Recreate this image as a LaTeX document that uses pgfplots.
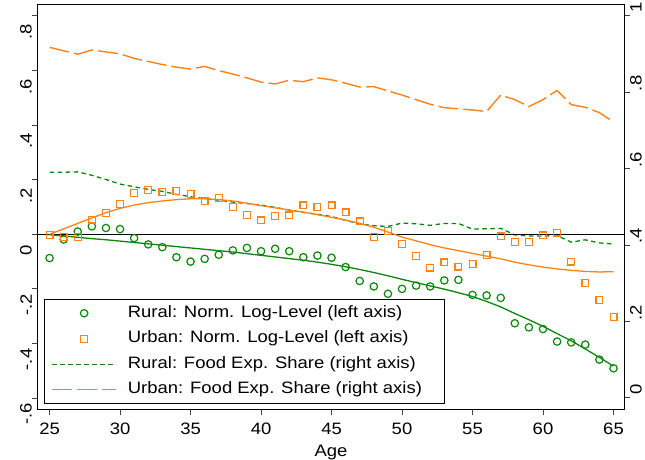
\documentclass[border=0pt]{standalone}
\usepackage{fontspec}
\setmainfont{Liberation Sans}[FakeStretch=1.12]
\usepackage{pgfplots}
\usepackage{pgfplotstable}
\pgfplotsset{compat=1.18}

\definecolor{rgreen}{RGB}{10,135,10}
\definecolor{uorange}{RGB}{255,130,20}

% age, rural/urban normalised log-level (points), fitted curves, food expenditure shares
\pgfplotstableread{
age rl ul rf uf rs us
25 -0.087 -0.002 -0.002 0.000 0.591 0.918
26 -0.019 -0.010 -0.006 0.020 0.591 0.909
27 0.010 -0.009 -0.011 0.040 0.592 0.900
28 0.029 0.054 -0.016 0.060 0.583 0.911
29 0.023 0.079 -0.020 0.079 0.572 0.906
30 0.019 0.112 -0.025 0.095 0.560 0.901
31 -0.014 0.151 -0.030 0.107 0.553 0.889
32 -0.037 0.162 -0.035 0.116 0.546 0.881
33 -0.047 0.155 -0.040 0.122 0.541 0.873
34 -0.084 0.158 -0.045 0.127 0.533 0.866
35 -0.100 0.147 -0.050 0.130 0.527 0.861
36 -0.090 0.123 -0.055 0.130 0.522 0.868
37 -0.075 0.134 -0.060 0.127 0.518 0.857
38 -0.059 0.101 -0.065 0.122 0.513 0.848
39 -0.050 0.070 -0.071 0.114 0.509 0.838
40 -0.062 0.051 -0.077 0.105 0.505 0.827
41 -0.053 0.067 -0.083 0.097 0.499 0.822
42 -0.062 0.069 -0.089 0.089 0.492 0.832
43 -0.084 0.106 -0.095 0.081 0.486 0.828
44 -0.078 0.101 -0.102 0.072 0.481 0.838
45 -0.086 0.106 -0.110 0.062 0.475 0.833
46 -0.120 0.080 -0.119 0.052 0.465 0.824
47 -0.171 0.047 -0.129 0.040 0.456 0.814
48 -0.191 -0.009 -0.140 0.026 0.451 0.815
49 -0.218 0.013 -0.152 0.008 0.449 0.804
50 -0.200 -0.036 -0.165 -0.010 0.458 0.793
51 -0.188 -0.080 -0.177 -0.024 0.456 0.781
52 -0.191 -0.122 -0.189 -0.038 0.452 0.769
53 -0.169 -0.103 -0.201 -0.050 0.457 0.760
54 -0.167 -0.118 -0.214 -0.060 0.457 0.757
55 -0.222 -0.108 -0.228 -0.070 0.442 0.754
56 -0.224 -0.076 -0.246 -0.080 0.443 0.750
57 -0.233 -0.008 -0.266 -0.090 0.444 0.793
58 -0.326 -0.029 -0.290 -0.102 0.427 0.781
59 -0.341 -0.029 -0.313 -0.112 0.424 0.763
60 -0.347 -0.004 -0.337 -0.120 0.424 0.781
61 -0.393 0.006 -0.364 -0.127 0.425 0.805
62 -0.396 -0.100 -0.390 -0.132 0.408 0.768
63 -0.404 -0.179 -0.420 -0.136 0.414 0.761
64 -0.459 -0.240 -0.451 -0.138 0.406 0.747
65 -0.491 -0.304 -0.483 -0.137 0.403 0.723
}\agedata

\newcommand{\lblfont}{\fontsize{16.5bp}{19bp}\selectfont}

\begin{document}
\begin{tikzpicture}
\pgfplotsset{
  common/.style={
    scale only axis, width=586bp, height=404bp,
    xmin=24.18, xmax=65.745,
    axis line style={line width=1bp, black},
    tick align=outside, major tick length=6bp,
    every tick/.style={black!75, line width=1bp},
    tick label style={font=\lblfont},
    /pgf/number format/assume math mode=true,
  }
}
% right axis: food expenditure shares
\begin{axis}[common,
  axis x line=none, axis y line*=right,
  ymin=-0.0288, ymax=1.0288,
  ytick={0,0.2,0.4,0.6,0.8,1},
  yticklabels={0,.2,.4,.6,.8,1},
  yticklabel style={rotate=90, anchor=north, inner sep=0pt, xshift=9bp},
]
\addplot[rgreen, line width=1.3bp, dash pattern=on 4.5bp off 3.5bp] table[x=age,y=rs]{\agedata};
\addplot[uorange, line width=1.4bp, dash pattern=on 20bp off 5bp] table[x=age,y=us]{\agedata};
\end{axis}
% left axis: normalised log-levels
\begin{axis}[common,
  ymin=-0.640, ymax=0.840,
  xtick pos=bottom, ytick pos=left,
  xtick={25,30,...,65},
  ytick={-0.6,-0.4,-0.2,0,0.2,0.4,0.6,0.8},
  yticklabels={-.6,-.4,-.2,0,.2,.4,.6,.8},
  yticklabel style={rotate=90, anchor=south, inner sep=0pt, xshift=-16bp},
  xticklabel style={anchor=north, inner sep=0pt, yshift=-8bp},
  xlabel={Age}, xlabel style={font=\lblfont, inner sep=0pt, yshift=-10bp},
  legend image code/.code={\draw[mark repeat=2,mark phase=2,#1] plot coordinates {(0bp,0bp)(32bp,0bp)(64bp,0bp)};},
  legend style={at={(rel axis cs:0.0102,0.0124)}, anchor=south west,
    draw=black, line width=1bp, fill=white, font=\lblfont,
    inner xsep=7bp, inner ysep=4bp, row sep=6bp,
    nodes={inner sep=2bp, text height=12bp, text depth=3.5bp},
    /tikz/every odd column/.append style={column sep=9bp}},
  legend cell align=left,
]
\addplot[black, line width=1bp, forget plot] coordinates {(24.18,0) (65.745,0)};
\addplot[rgreen, line width=1.3bp, forget plot] table[x=age,y=rf]{\agedata};
\addplot[uorange, line width=1.3bp, forget plot] table[x=age,y=uf]{\agedata};
\addplot[rgreen, only marks, mark=o, mark size=3.7bp, mark options={line width=1.2bp}] table[x=age,y=rl]{\agedata};
\addlegendentry{Rural: Norm. Log-Level (left axis)}
\addplot[uorange, only marks, mark=square, mark size=3.4bp, mark options={line width=1.2bp}] table[x=age,y=ul]{\agedata};
\addlegendentry{Urban: Norm. Log-Level (left axis)}
\addlegendimage{rgreen, line width=1.3bp, dash pattern=on 4.5bp off 3.5bp}
\addlegendentry{Rural: Food Exp. Share (right axis)}
\addlegendimage{uorange, line width=1.4bp, dash pattern=on 20bp off 5bp}
\addlegendentry{Urban: Food Exp. Share (right axis)\hspace*{14bp}}
\end{axis}
\pgfresetboundingbox
\path[use as bounding box] (-38bp,-51bp) rectangle (607bp,409bp);
\end{tikzpicture}
\end{document}
